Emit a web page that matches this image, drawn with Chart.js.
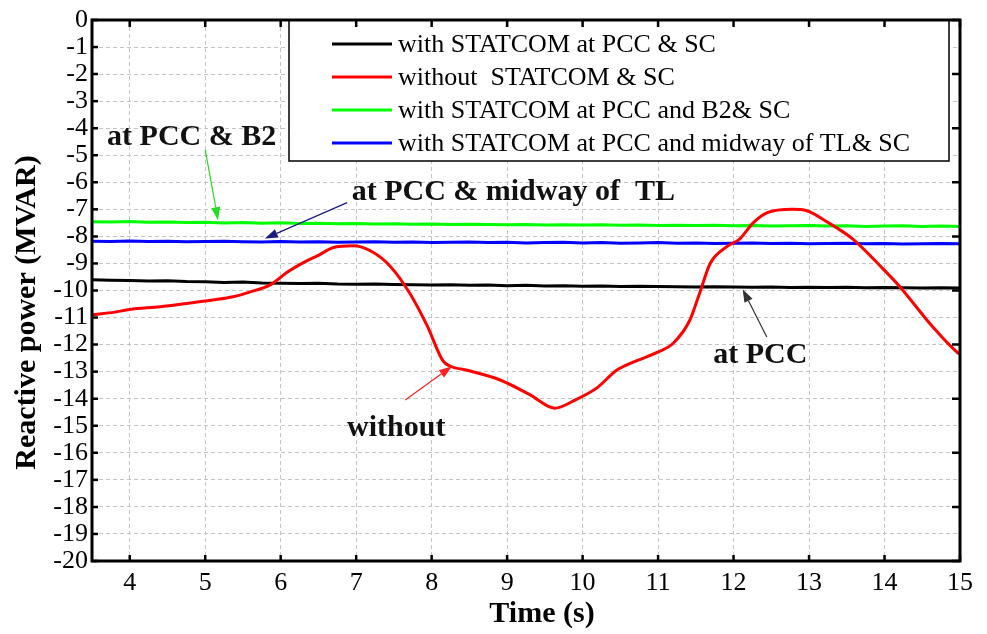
<!DOCTYPE html>
<html>
<head>
<meta charset="utf-8">
<script src="https://cdn.jsdelivr.net/npm/chart.js@4.4.0/dist/chart.umd.min.js"></script>
<style>
    html, body { margin: 0; padding: 0; background: #fff; }
</style>
</head>
<body>
<canvas id="chart" width="987" height="634"></canvas>
<script>
const seriesLabels = [
    'with STATCOM at PCC & SC',
    'without  STATCOM & SC',
    'with STATCOM at PCC and B2& SC',
    'with STATCOM at PCC and midway of TL& SC'
];

// time axis of the three compensated cases (s)
const flatTime = [3.5, 3.75, 4, 4.25, 4.5, 4.75, 5, 5.25, 5.5, 5.75, 6, 6.25, 6.5, 6.75, 7, 7.25,
    7.5, 7.75, 8, 8.25, 8.5, 8.75, 9, 9.25, 9.5, 9.75, 10, 10.25, 10.5, 10.75, 11, 11.25,
    11.5, 11.75, 12, 12.25, 12.5, 12.75, 13, 13.25, 13.5, 13.75, 14, 14.25, 14.5, 14.75, 15];

const pccValues = [-9.60, -9.62, -9.63, -9.65, -9.64, -9.67, -9.68, -9.70, -9.69, -9.72, -9.73, -9.74, -9.73, -9.76, -9.77, -9.76,
    -9.78, -9.79, -9.80, -9.79, -9.81, -9.80, -9.82, -9.81, -9.83, -9.82, -9.84, -9.83, -9.85, -9.84, -9.85, -9.86,
    -9.87, -9.86, -9.87, -9.88, -9.87, -9.89, -9.88, -9.89, -9.88, -9.90, -9.89, -9.90, -9.91, -9.90, -9.91];

const b2Values = [-7.46, -7.47, -7.45, -7.48, -7.47, -7.49, -7.48, -7.50, -7.49, -7.51, -7.50, -7.52, -7.51, -7.53, -7.52, -7.54,
    -7.53, -7.55, -7.54, -7.56, -7.55, -7.56, -7.57, -7.56, -7.58, -7.57, -7.58, -7.57, -7.59, -7.58, -7.60, -7.59,
    -7.60, -7.59, -7.61, -7.60, -7.62, -7.61, -7.60, -7.62, -7.61, -7.63, -7.62, -7.61, -7.63, -7.62, -7.63];

const midwayValues = [-8.18, -8.19, -8.17, -8.19, -8.18, -8.20, -8.19, -8.18, -8.20, -8.21, -8.19, -8.21, -8.20, -8.22, -8.21, -8.20,
    -8.22, -8.21, -8.23, -8.22, -8.21, -8.23, -8.22, -8.24, -8.23, -8.22, -8.24, -8.23, -8.25, -8.24, -8.23, -8.25,
    -8.24, -8.26, -8.25, -8.24, -8.26, -8.25, -8.27, -8.26, -8.25, -8.27, -8.26, -8.28, -8.27, -8.26, -8.27];

// uncompensated case
const withoutTime = [3.5, 3.8, 4.0, 4.4, 4.8, 5.1, 5.37, 5.6, 5.86, 6.1, 6.3, 6.5, 6.69, 6.96, 7.2, 7.45,
    7.71, 7.94, 8.15, 8.25, 8.47, 8.9, 9.3, 9.63, 9.9, 10.19, 10.45, 10.67, 10.98, 11.2, 11.42, 11.55,
    11.69, 11.91, 12.08, 12.26, 12.44, 12.78, 12.97, 13.23, 13.58, 13.98, 14.2, 14.64, 14.97, 15];
const withoutValues = [-10.9, -10.8, -10.7, -10.6, -10.46, -10.35, -10.23, -10.05, -9.79, -9.3, -8.97, -8.7, -8.42, -8.35, -8.55, -9.1,
    -10.1, -11.3, -12.6, -12.8, -12.95, -13.3, -13.85, -14.35, -14.05, -13.6, -12.95, -12.65, -12.3, -11.95, -11.1, -10.1,
    -9.0, -8.38, -8.1, -7.5, -7.13, -7.0, -7.05, -7.45, -8.1, -9.2, -9.85, -11.35, -12.3, -12.35];

const xTickLabels = ['4', '5', '6', '7', '8', '9', '10', '11', '12', '13', '14', '15'];
const yTickLabels = ['0', '-1', '-2', '-3', '-4', '-5', '-6', '-7', '-8', '-9', '-10', '-11', '-12', '-13', '-14', '-15', '-16', '-17', '-18', '-19', '-20'];
const xTitle = 'Time (s)';
const yTitle = 'Reactive power (MVAR)';

const colors = ['#000000', '#ff0000', '#00ff00', '#0000ff'];

function toPoints(xs, ys) {
    return xs.map((x, i) => ({ x: x, y: ys[i] }));
}

const notes = [
    { text: 'at PCC & B2', x: 3.70, y: -4.34, from: [5.0, -4.79], to: [5.17, -7.40], color: '#22dd22' },
    { text: 'at PCC & midway of  TL', x: 6.94, y: -6.38, from: [6.88, -6.75], to: [5.79, -8.08], color: '#1a1a80' },
    { text: 'at PCC', x: 11.73, y: -12.39, from: [12.44, -11.72], to: [12.12, -9.95], color: '#333333' },
    { text: 'without', x: 6.88, y: -15.08, from: [7.65, -14.05], to: [8.27, -12.8], color: '#ff2020' }
];

const serif = "'Liberation Serif', 'Times New Roman', serif";

function drawArrow(ctx, x1, y1, x2, y2, color) {
    const ang = Math.atan2(y2 - y1, x2 - x1);
    const len = 13, half = 4.5;
    ctx.strokeStyle = color;
    ctx.fillStyle = color;
    ctx.lineWidth = 1.2;
    ctx.beginPath();
    ctx.moveTo(x1, y1);
    ctx.lineTo(x2 - Math.cos(ang) * len, y2 - Math.sin(ang) * len);
    ctx.stroke();
    ctx.beginPath();
    ctx.moveTo(x2, y2);
    ctx.lineTo(x2 - Math.cos(ang) * len - Math.sin(ang) * half, y2 - Math.sin(ang) * len + Math.cos(ang) * half);
    ctx.lineTo(x2 - Math.cos(ang) * len + Math.sin(ang) * half, y2 - Math.sin(ang) * len - Math.cos(ang) * half);
    ctx.closePath();
    ctx.fill();
}

const framePlugin = {
    id: 'frame',
    afterDraw(chart) {
        const ctx = chart.ctx;
        const a = chart.chartArea;
        const xs = chart.scales.x, ys = chart.scales.y;
        ctx.save();

        // annotations
        notes.forEach(function (n) {
            drawArrow(ctx, xs.getPixelForValue(n.from[0]), ys.getPixelForValue(n.from[1]),
                xs.getPixelForValue(n.to[0]), ys.getPixelForValue(n.to[1]), n.color);
            ctx.fillStyle = '#111';
            ctx.font = 'bold 30px ' + serif;
            ctx.textBaseline = 'middle';
            ctx.textAlign = 'left';
            ctx.fillText(n.text, xs.getPixelForValue(n.x), ys.getPixelForValue(n.y));
        });

        // legend box
        const lx = 289, ly = a.top, lw = 660, lh = 141;
        ctx.fillStyle = '#fff';
        ctx.fillRect(lx, ly, lw, lh);
        ctx.strokeStyle = '#000';
        ctx.lineWidth = 1.5;
        ctx.strokeRect(lx, ly, lw, lh);
        const rows = [44, 77, 110, 143];
        chart.data.datasets.forEach(function (ds, i) {
            ctx.strokeStyle = ds.borderColor;
            ctx.lineWidth = 3;
            ctx.beginPath();
            ctx.moveTo(332, rows[i]);
            ctx.lineTo(392, rows[i]);
            ctx.stroke();
            ctx.fillStyle = '#000';
            ctx.font = '26px ' + serif;
            ctx.textBaseline = 'middle';
            ctx.textAlign = 'left';
            ctx.fillText(ds.label, 398, rows[i] + 1);
        });

        // axis titles
        ctx.fillStyle = '#000';
        ctx.font = 'bold 30px ' + serif;
        ctx.textAlign = 'center';
        ctx.textBaseline = 'middle';
        ctx.fillText(xTitle, (a.left + a.right) / 2 + 16, 614);
        ctx.save();
        ctx.translate(27, (a.top + a.bottom) / 2 + 22);
        ctx.rotate(-Math.PI / 2);
        ctx.fillText(yTitle, 0, 0);
        ctx.restore();

        // frame and inward ticks
        ctx.strokeStyle = '#000';
        ctx.lineWidth = 3;
        ctx.strokeRect(a.left, a.top, a.right - a.left, a.bottom - a.top);
        ctx.lineWidth = 2.5;
        xs.ticks.forEach(function (t) {
            const px = xs.getPixelForValue(t.value);
            ctx.beginPath();
            ctx.moveTo(px, a.bottom);
            ctx.lineTo(px, a.bottom - 6);
            ctx.moveTo(px, a.top);
            ctx.lineTo(px, a.top + 7);
            ctx.stroke();
        });
        ys.ticks.forEach(function (t) {
            const py = ys.getPixelForValue(t.value);
            ctx.beginPath();
            ctx.moveTo(a.left, py);
            ctx.lineTo(a.left + 6, py);
            if (t.value % 2 === 0) {
                ctx.moveTo(a.right, py);
                ctx.lineTo(a.right - 8, py);
            }
            ctx.stroke();
        });
        ctx.restore();
    }
};

const datasets = [
    { label: seriesLabels[0], data: toPoints(flatTime, pccValues) },
    { label: seriesLabels[1], data: toPoints(withoutTime, withoutValues), cubicInterpolationMode: 'monotone' },
    { label: seriesLabels[2], data: toPoints(flatTime, b2Values) },
    { label: seriesLabels[3], data: toPoints(flatTime, midwayValues) }
].map(function (ds, i) {
    ds.borderColor = colors[i];
    ds.backgroundColor = colors[i];
    ds.borderWidth = 3;
    ds.pointRadius = 0;
    ds.fill = false;
    ds.order = i === 1 ? 0 : 1;
    return ds;
});

new Chart(document.getElementById('chart'), {
    type: 'line',
    data: { datasets: datasets },
    options: {
        responsive: false,
        animation: false,
        devicePixelRatio: 1,
        layout: { padding: { left: 0, right: 27, top: 20, bottom: 0 } },
        plugins: {
            legend: { display: false },
            tooltip: { enabled: false }
        },
        scales: {
            x: {
                type: 'linear',
                min: 3.5,
                max: 15,
                afterFit: function (scale) { scale.height = 73; },
                ticks: {
                    stepSize: 1,
                    includeBounds: false,
                    autoSkip: false,
                    padding: 7,
                    color: '#000',
                    font: { family: serif, size: 26 },
                    maxRotation: 0,
                    callback: function (v) { return xTickLabels.includes(String(v)) ? String(v) : ''; }
                },
                grid: { color: '#c4c4c4', lineWidth: 1, drawTicks: false },
                border: { display: false, dash: [4, 3] }
            },
            y: {
                min: -20,
                max: 0,
                afterFit: function (scale) { scale.width = 92; },
                ticks: {
                    stepSize: 1,
                    autoSkip: false,
                    padding: 4,
                    color: '#000',
                    font: { family: serif, size: 26 },
                    callback: function (v) { return yTickLabels.includes(String(v)) ? String(v) : ''; }
                },
                grid: { color: '#c4c4c4', lineWidth: 1, drawTicks: false },
                border: { display: false, dash: [4, 3] }
            }
        }
    },
    plugins: [framePlugin]
});
</script>
</body>
</html>
